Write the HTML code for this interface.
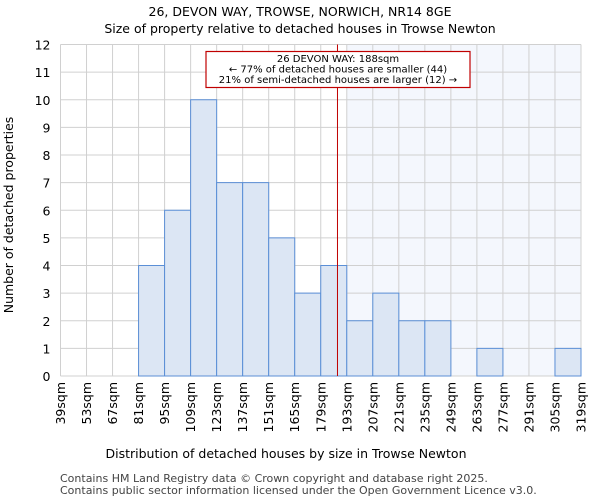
<!DOCTYPE html>
<html><head><meta charset="utf-8"><style>
body{margin:0;background:#fff;font-family:"DejaVu Sans","Liberation Sans",sans-serif}
text{font-family:"DejaVu Sans","Liberation Sans",sans-serif}
</style></head><body>
<svg id="c" width="600" height="500" xmlns="http://www.w3.org/2000/svg">
<text x="300" y="16" text-anchor="middle" font-size="12.5">26, DEVON WAY, TROWSE, NORWICH, NR14 8GE</text>
<text x="300" y="33" text-anchor="middle" font-size="12.5">Size of property relative to detached houses in Trowse Newton</text>
<g id="plot"></g>
<text x="286" y="458" text-anchor="middle" font-size="12.5">Distribution of detached houses by size in Trowse Newton</text>
<text transform="translate(13,215) rotate(-90)" text-anchor="middle" font-size="12.5">Number of detached properties</text>
<text x="60" y="482" font-size="11" fill="#444">Contains HM Land Registry data © Crown copyright and database right 2025.</text>
<text x="60" y="494" font-size="11" fill="#444">Contains public sector information licensed under the Open Government Licence v3.0.</text>
</svg>
<script>
const binStarts=[39,53,67,81,95,109,123,137,151,165,179,193,207,221,235,249,263,277,291,305,319];
const counts=[0,0,0,4,6,10,7,7,5,3,4,2,3,2,2,0,1,0,0,1];
const yTicks=[0,1,2,3,4,5,6,7,8,9,10,11,12];
const subjectSize=188;
const annotLines=["26 DEVON WAY: 188sqm","← 77% of detached houses are smaller (44)","21% of semi-detached houses are larger (12) →"];
const L=60.5,R=581,T=44.5,B=376;
const xs=v=>L+(v-39)/(319-39)*(R-L);
const ys=v=>B-v/12*(B-T);
const g=document.getElementById('plot');
const NS="http://www.w3.org/2000/svg";
function mk(t,a){const e=document.createElementNS(NS,t);for(const k in a)e.setAttribute(k,a[k]);g.appendChild(e);return e;}
let e=mk('rect',{x:xs(193),y:T,width:R-xs(193),height:B-T,fill:'#f4f7fd'});


binStarts.forEach(v=>{const l=mk('line',{x1:xs(v),x2:xs(v),y1:T,y2:B,stroke:'#d0d0d0','stroke-width':1});

});
yTicks.forEach(v=>{const l=mk('line',{x1:L,x2:R,y1:ys(v),y2:ys(v),stroke:'#d0d0d0','stroke-width':1});


const t=mk('text',{x:L-10,y:ys(v)+5,'text-anchor':'end','font-size':12.5});t.textContent=v;

});
counts.forEach((c,i)=>{if(c<=0)return;const r=mk('rect',{x:xs(binStarts[i]),y:ys(c),width:xs(binStarts[i+1])-xs(binStarts[i]),height:ys(0)-ys(c),fill:'#dce6f4',stroke:'#5b8fd6','stroke-width':1});

});
binStarts.forEach(v=>{const x=xs(v);const t=mk('text',{transform:`translate(${x+4.5},382) rotate(-90)`,'text-anchor':'end','font-size':12.5});t.textContent=v+'sqm';

});
const sl=mk('line',{x1:xs(subjectSize),x2:xs(subjectSize),y1:T,y2:B,stroke:'#c00000','stroke-width':1});


const ab=mk('rect',{x:206,y:51.5,width:264,height:36,fill:'#fff',stroke:'#c00000','stroke-width':1.2});


annotLines.forEach((s,i)=>{const t=mk('text',{x:338,y:62+i*10.5,'text-anchor':'middle','font-size':10});t.textContent=s;

});
</script>
</body></html>
